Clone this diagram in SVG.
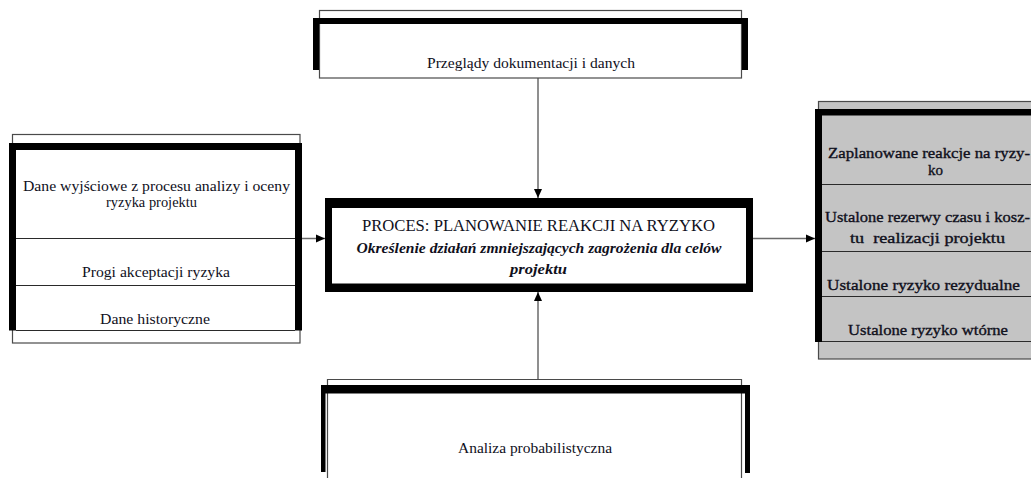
<svg xmlns="http://www.w3.org/2000/svg" width="1031" height="478" viewBox="0 0 1031 478">
  <style>
    .thin { fill: #ffffff; stroke: #4a4a4a; stroke-width: 1.2; }
    .grey { fill: #c4c4c4; stroke: #4a4a4a; stroke-width: 1.2; }
    .bar { fill: #000000; }
    .div { stroke: #2a2a2a; stroke-width: 1.2; fill: none; }
    .conn { stroke: #6a6a6a; stroke-width: 1.5; fill: none; }
    .t { font-family: 'Times New Roman', 'Liberation Serif', Times, 'DejaVu Serif', serif; font-size: 15px; fill: #10101c; text-anchor: middle; }
    .h { font-size: 17px; }
    .bi { font-size: 15.5px; font-weight: bold; font-style: italic; }
    .heavy { stroke: #10101c; stroke-width: 0.35; }
  </style>
  <defs>
    <marker id="arrow" markerUnits="userSpaceOnUse" markerWidth="10" markerHeight="10" refX="9" refY="5" orient="auto">
      <path d="M0,1 L9,5 L0,9 Z" fill="#000000"/>
    </marker>
  </defs>

  <rect width="1031" height="478" fill="#ffffff"/>

  <!-- connectors -->
  <g id="connectors">
    <line class="conn" x1="538" y1="78" x2="538" y2="198" marker-end="url(#arrow)"/>
    <line class="conn" x1="538" y1="379" x2="538" y2="292" marker-end="url(#arrow)"/>
    <line class="conn" x1="302" y1="238.5" x2="325" y2="238.5" marker-end="url(#arrow)"/>
    <line class="conn" x1="753" y1="238.5" x2="815" y2="238.5" marker-end="url(#arrow)"/>
  </g>

  <!-- top input: document review -->
  <g id="node-przeglady">
    <rect class="thin" x="319.5" y="10.5" width="422" height="67.5"/>
    <rect class="bar" x="313" y="18" width="435" height="6"/>
    <rect class="bar" x="313" y="18" width="6" height="52"/>
    <rect class="bar" x="742" y="18" width="6" height="52"/>
    <text class="t" x="531" y="68" textLength="208" lengthAdjust="spacingAndGlyphs">Przeglądy dokumentacji i danych</text>
  </g>

  <!-- left inputs -->
  <g id="node-dane">
    <rect class="thin" x="12.5" y="134.5" width="287.5" height="208.5"/>
    <rect class="bar" x="9" y="143" width="293" height="7"/>
    <rect class="bar" x="9" y="143" width="7" height="187.5"/>
    <rect class="bar" x="295" y="143" width="7" height="187.5"/>
    <line class="div" x1="16" y1="238.5" x2="295" y2="238.5"/>
    <line class="div" x1="16" y1="285.5" x2="295" y2="285.5"/>
    <line class="div" x1="16" y1="330.5" x2="295" y2="330.5"/>
    <text class="t" x="156.5" y="191" textLength="267" lengthAdjust="spacingAndGlyphs">Dane wyjściowe z procesu analizy i oceny</text>
    <text class="t" x="151.5" y="207" textLength="91" lengthAdjust="spacingAndGlyphs">ryzyka projektu</text>
    <text class="t" x="156" y="277" textLength="148" lengthAdjust="spacingAndGlyphs">Progi akceptacji ryzyka</text>
    <text class="t" x="155" y="324" textLength="110" lengthAdjust="spacingAndGlyphs">Dane historyczne</text>
  </g>

  <!-- central process -->
  <g id="node-proces">
    <rect class="bar" x="325" y="198" width="428" height="94"/>
    <rect x="332" y="208" width="414" height="75.5" fill="#ffffff"/>
    <text class="t h" x="538.5" y="231" textLength="353" lengthAdjust="spacingAndGlyphs">PROCES: PLANOWANIE REAKCJI NA RYZYKO</text>
    <text class="t bi" x="539" y="253" textLength="365" lengthAdjust="spacingAndGlyphs">Określenie działań zmniejszających zagrożenia dla celów</text>
    <text class="t bi" x="538.5" y="274" textLength="57" lengthAdjust="spacingAndGlyphs">projektu</text>
  </g>

  <!-- right outputs -->
  <g id="node-wyniki">
    <rect class="grey" x="818.5" y="101.5" width="230" height="257.5"/>
    <rect class="bar" x="815" y="109" width="230" height="6.5"/>
    <rect class="bar" x="815" y="109" width="7" height="233"/>
    <line class="div" x1="822" y1="184.5" x2="1031" y2="184.5"/>
    <line class="div" x1="822" y1="251.5" x2="1031" y2="251.5"/>
    <line class="div" x1="822" y1="296.5" x2="1031" y2="296.5"/>
    <line class="div" x1="822" y1="341.5" x2="1031" y2="341.5"/>
    <text class="t heavy" x="929" y="158" textLength="202" lengthAdjust="spacingAndGlyphs">Zaplanowane reakcje na ryzy-</text>
    <text class="t heavy" x="935.5" y="175" textLength="15" lengthAdjust="spacingAndGlyphs">ko</text>
    <text class="t heavy" x="927.5" y="222" textLength="205" lengthAdjust="spacingAndGlyphs">Ustalone rezerwy czasu i kosz-</text>
    <text class="t heavy" x="927.5" y="243" textLength="155" lengthAdjust="spacingAndGlyphs" xml:space="preserve">tu  realizacji projektu</text>
    <text class="t heavy" x="923.5" y="290" textLength="193" lengthAdjust="spacingAndGlyphs">Ustalone ryzyko rezydualne</text>
    <text class="t heavy" x="928" y="335" textLength="160" lengthAdjust="spacingAndGlyphs">Ustalone ryzyko wtórne</text>
  </g>

  <!-- bottom input: probabilistic analysis -->
  <g id="node-analiza">
    <path class="thin" d="M327.5,478 V379.5 H741.5 V478"/>
    <rect class="bar" x="321" y="385" width="429" height="8.5"/>
    <rect class="bar" x="321" y="385" width="4.5" height="87"/>
    <rect class="bar" x="745" y="385" width="5" height="88"/>
    <text class="t" x="535" y="453" textLength="154" lengthAdjust="spacingAndGlyphs">Analiza probabilistyczna</text>
  </g>
</svg>
